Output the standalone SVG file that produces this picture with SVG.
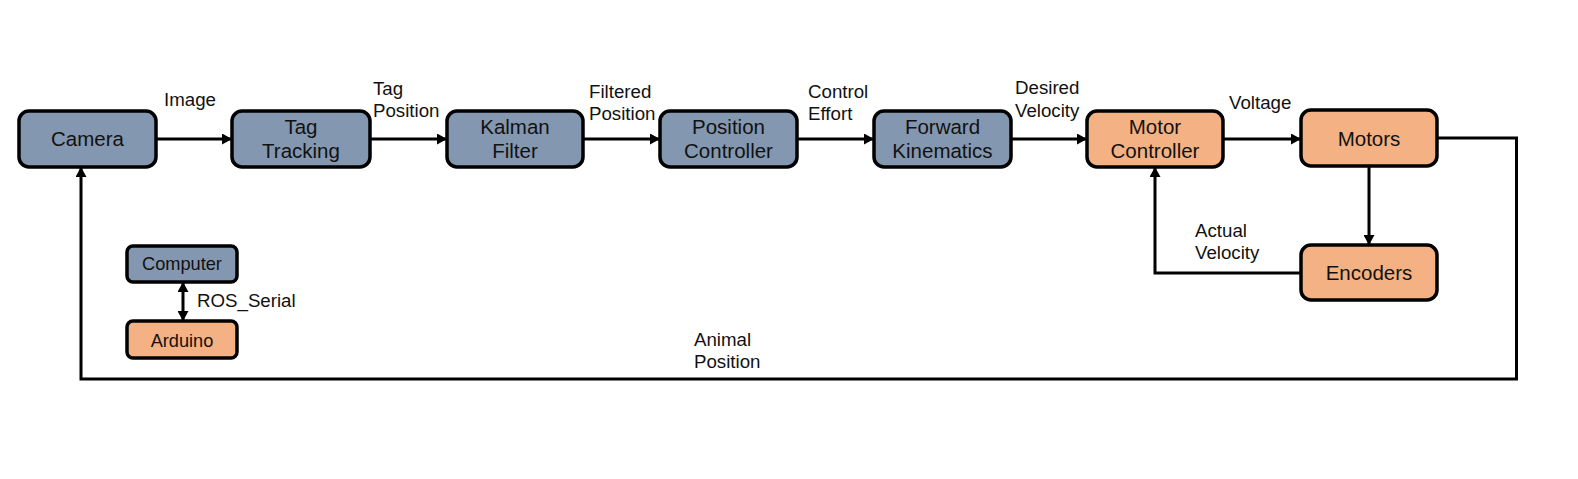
<svg xmlns="http://www.w3.org/2000/svg" width="1578" height="479" viewBox="0 0 1578 479">
<style>
.n rect{stroke:#000;stroke-width:3.5}
.b{fill:#8497B0}
.o{fill:#F4B183}
text{font-family:"Liberation Sans",Arial,sans-serif;fill:#111}
.t{font-size:20.5px;text-anchor:middle}
.s{font-size:18.2px;text-anchor:middle}
.l{font-size:18.7px}
.c path{fill:none;stroke:#000;stroke-width:3}
</style>
<defs>
<marker id="a" viewBox="0 0 10 11" refX="10" refY="5.5" markerWidth="10" markerHeight="11" markerUnits="userSpaceOnUse" orient="auto-start-reverse">
<path d="M0,0L10,5.5L0,11z" fill="#000"/>
</marker>
</defs>
<rect width="1578" height="479" fill="#fff"/>
<g class="c">
<path d="M156,139H232" marker-end="url(#a)"/>
<path d="M370,139H447" marker-end="url(#a)"/>
<path d="M583,139H660" marker-end="url(#a)"/>
<path d="M797,139H874" marker-end="url(#a)"/>
<path d="M1011,139H1087" marker-end="url(#a)"/>
<path d="M1223,139H1301" marker-end="url(#a)"/>
<path d="M1369,166V245" marker-end="url(#a)"/>
<path d="M1301,273H1155V167" marker-end="url(#a)"/>
<path d="M1437,138H1516.5V379H81V167" marker-end="url(#a)"/>
<path d="M183,282V321" marker-start="url(#a)" marker-end="url(#a)"/>
</g>
<g id="camera" class="n"><rect class="b" x="19" y="111" width="137" height="56" rx="10"/><text class="t" x="87.5" y="146">Camera</text></g>
<g id="tag-tracking" class="n"><rect class="b" x="232" y="111" width="138" height="56" rx="10"/><text class="t" x="301" y="134">Tag</text><text class="t" x="301" y="158">Tracking</text></g>
<g id="kalman-filter" class="n"><rect class="b" x="447" y="111" width="136" height="56" rx="10"/><text class="t" x="515" y="134">Kalman</text><text class="t" x="515" y="158">Filter</text></g>
<g id="position-controller" class="n"><rect class="b" x="660" y="111" width="137" height="56" rx="10"/><text class="t" x="728.5" y="134">Position</text><text class="t" x="728.5" y="158">Controller</text></g>
<g id="forward-kinematics" class="n"><rect class="b" x="874" y="111" width="137" height="56" rx="10"/><text class="t" x="942.5" y="134">Forward</text><text class="t" x="942.5" y="158">Kinematics</text></g>
<g id="motor-controller" class="n"><rect class="o" x="1087" y="111" width="136" height="56" rx="10"/><text class="t" x="1155" y="134">Motor</text><text class="t" x="1155" y="158">Controller</text></g>
<g id="motors" class="n"><rect class="o" x="1301" y="110" width="136" height="56" rx="10"/><text class="t" x="1369" y="145.5">Motors</text></g>
<g id="encoders" class="n"><rect class="o" x="1301" y="245" width="136" height="55" rx="10"/><text class="t" x="1369" y="280">Encoders</text></g>
<g id="computer" class="n"><rect class="b" x="127" y="246" width="110" height="36" rx="6"/><text class="s" x="182" y="270">Computer</text></g>
<g id="arduino" class="n"><rect class="o" x="127" y="321" width="110" height="37" rx="6"/><text class="s" x="182" y="346.5">Arduino</text></g>
<g id="labels">
<text class="l" x="164" y="106">Image</text>
<text class="l" x="373" y="95">Tag</text><text class="l" x="373" y="117">Position</text>
<text class="l" x="589" y="98">Filtered</text><text class="l" x="589" y="120">Position</text>
<text class="l" x="808" y="98">Control</text><text class="l" x="808" y="120">Effort</text>
<text class="l" x="1015" y="94">Desired</text><text class="l" x="1015" y="117">Velocity</text>
<text class="l" x="1229" y="109">Voltage</text>
<text class="l" x="1195" y="237">Actual</text><text class="l" x="1195" y="259">Velocity</text>
<text class="l" x="694" y="346">Animal</text><text class="l" x="694" y="368">Position</text>
<text class="l" x="197" y="307">ROS_Serial</text>
</g>
</svg>
